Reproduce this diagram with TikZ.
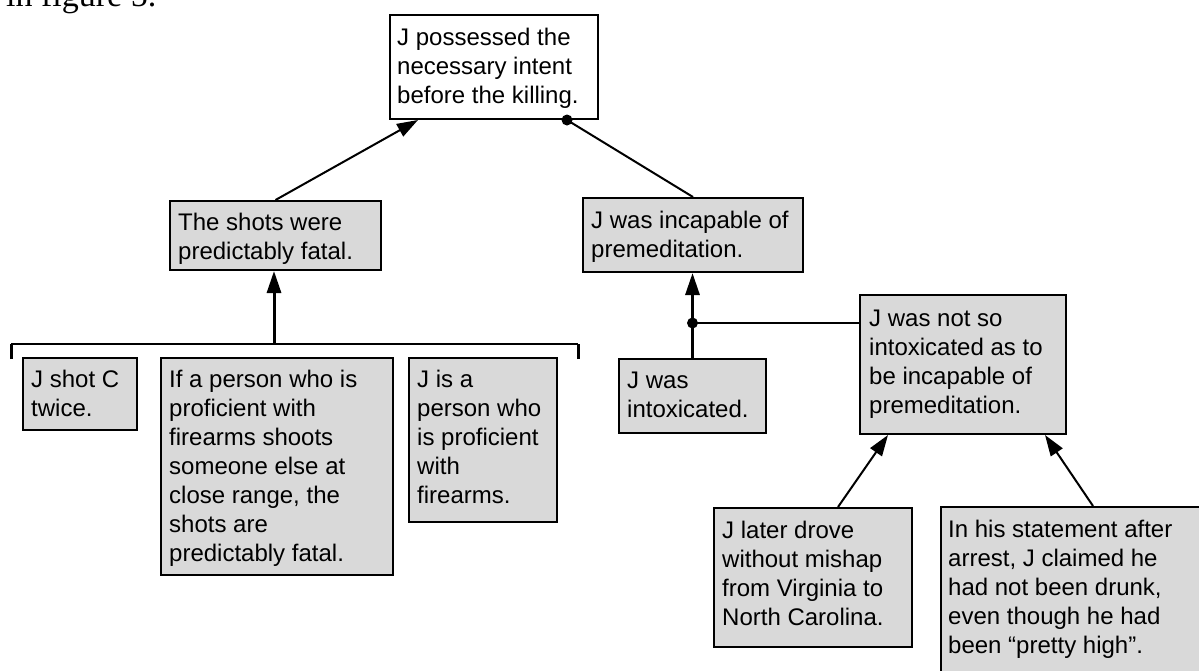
\documentclass[tikz,border=0pt]{standalone}
\usepackage{fontspec}
\setmainfont{Liberation Sans}
\newfontfamily\seriffont{Liberation Serif}
\usetikzlibrary{arrows.meta,calc}
\definecolor{boxgrey}{HTML}{D9D9D9}
\tikzset{
  argbox/.style={draw=black, line width=2pt, fill=boxgrey, rectangle, inner sep=0pt, anchor=north west},
  claimbox/.style={argbox, fill=white},
  argtext/.style={anchor=north west, inner sep=0pt, align=left, font=\fontsize{24}{29}\selectfont},
  link/.style={line width=2pt, draw=black},
  support/.style={link, -{Triangle[length=21pt,width=14pt]}},
  stemlink/.style={line width=3pt, draw=black, -{Triangle[length=22pt,width=14pt]}},
  dotnode/.style={circle, fill=black, inner sep=0pt, minimum size=11pt},
}
\begin{document}
\begin{tikzpicture}[x=1pt,y=-1pt]
\useasboundingbox (0,0) rectangle (1199,670);

% partial running text at top of page (cut off by the page edge)
\node[anchor=base west, inner sep=0pt, font=\seriffont\fontsize{34}{40}\selectfont] (caption) at (6,6) {in figure 5.};

% boxes
\node[claimbox, minimum width=208pt, minimum height=104pt] (top) at (389,14) {};
\node[argbox, minimum width=211pt, minimum height=69pt] (shots) at (169,200) {};
\node[argbox, minimum width=220pt, minimum height=74pt] (incap) at (582,197) {};
\node[argbox, minimum width=114pt, minimum height=72pt] (jshot) at (22,357) {};
\node[argbox, minimum width=232pt, minimum height=217pt] (ifbox) at (160,357) {};
\node[argbox, minimum width=148pt, minimum height=164pt] (jisa) at (408,357) {};
\node[argbox, minimum width=147pt, minimum height=74pt] (intox) at (618,358) {};
\node[argbox, minimum width=206pt, minimum height=139pt] (notso) at (859,294) {};
\node[argbox, minimum width=198pt, minimum height=139pt] (drove) at (713,507) {};
\node[argbox, minimum width=300pt, minimum height=220pt] (stmt) at (940,506) {};

% texts
\node[argtext] (topT) at ($(top.north west)+(8,10.7)$) {\strut J possessed the\\necessary intent\\before the killing.};
\node[argtext] (shotsT) at ($(shots.north west)+(9,10.2)$) {\strut The shots were\\predictably fatal.};
\node[argtext] (incapT) at ($(incap.north west)+(9,10.7)$) {\strut J was incapable of\\premeditation.};
\node[argtext] (jshotT) at ($(jshot.north west)+(9,10)$) {\strut J shot C\\twice.};
\node[argtext] (ifboxT) at ($(ifbox.north west)+(9,10)$) {\strut If a person who is\\proficient with\\firearms shoots\\someone else at\\close range, the\\shots are\\predictably fatal.};
\node[argtext] (jisaT) at ($(jisa.north west)+(9,10)$) {\strut J is a\\person who\\is proficient\\with\\firearms.};
\node[argtext] (intoxT) at ($(intox.north west)+(9,10)$) {\strut J was\\intoxicated.};
\node[argtext] (notsoT) at ($(notso.north west)+(10,11.5)$) {\strut J was not so\\intoxicated as to\\be incapable of\\premeditation.};
\node[argtext] (droveT) at ($(drove.north west)+(9,10.7)$) {\strut J later drove\\without mishap\\from Virginia to\\North Carolina.};
\node[argtext] (stmtT) at ($(stmt.north west)+(8,10.7)$) {\strut In his statement after\\arrest, J claimed he\\had not been drunk,\\even though he had\\been \textquotedblleft pretty high\textquotedblright.};

% support: shots -> top
\draw[support] (shots.north) -- ($(top.south west)+(29,0)$);

% rebuttal: incap -> top, with dot
\node[dotnode] (d1) at ($(top.south west)+(178,0)$) {};
\draw[link] (incap.north) -- (d1.center);

% bracket joining the three premises
\coordinate (bl) at (11,359);
\coordinate (br) at (578,359);
\coordinate (bm) at (274,344);
\draw[line width=2.2pt] (bl |- bm) -- (br |- bm);
\draw[line width=3pt] (bl) -- (bl |- bm);
\draw[line width=3pt] (br) -- (br |- bm);
\draw[stemlink] (bm) -- (bm |- shots.south);

% intox -> incap, with undercutter junction
\draw[stemlink] (intox.north) -- (intox.north |- incap.south);
\node[dotnode] (d2) at (intox.north |- 0,323) {};
\draw[link] (d2.center) -- (d2.center -| notso.west);

% supports of notso
\draw[support] ($(drove.north west)+(125,0)$) -- ($(notso.south west)+(29,0)$);
\draw[support] ($(stmt.north west)+(153,0)$) -- ($(notso.south east)+(-22,0)$);
\end{tikzpicture}
\end{document}
